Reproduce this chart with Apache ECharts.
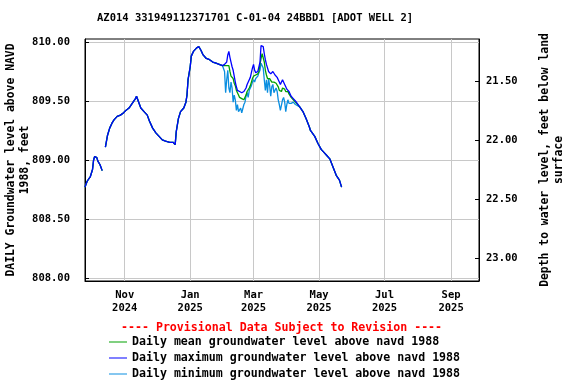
<!DOCTYPE html>
<html><head><meta charset="utf-8">
<script src="https://cdn.jsdelivr.net/npm/echarts@6/dist/echarts.min.js"></script>
<style>html,body{margin:0;padding:0;background:#fff}#c{width:576px;height:384px}</style>
</head><body><div id="c"></div>
<script>
// ---- data ----
const titleText = 'AZ014 331949112371701 C-01-04 24BBD1 [ADOT WELL 2]';
const provisionalText = '---- Provisional Data Subject to Revision ----';
const seriesNames = ['Daily mean groundwater level above navd 1988','Daily maximum groundwater level above navd 1988','Daily minimum groundwater level above navd 1988'];
const xTickDates = ['2024-11-01','2025-01-01','2025-03-01','2025-05-01','2025-07-01','2025-09-01'];
const monthNames = ['Jan','Feb','Mar','Apr','May','Jun','Jul','Aug','Sep','Oct','Nov','Dec'];
const leftTicks = [808.0, 808.5, 809.0, 809.5, 810.0];
const rightTicks = [21.5, 22.0, 22.5, 23.0];
const landSurface = 831.17;

// Sep 2024 - Jan 2025 (all three series coincide)
const datesA = ['2024-09-25','2024-09-27','2024-09-30','2024-10-02','2024-10-03','2024-10-04','2024-10-06','2024-10-07','2024-10-09','2024-10-11','2024-10-12',
 '2024-10-14','2024-10-15','2024-10-16','2024-10-18','2024-10-20','2024-10-22','2024-10-25','2024-10-28','2024-10-31','2024-11-02','2024-11-05','2024-11-08','2024-11-11','2024-11-12','2024-11-14','2024-11-16','2024-11-19','2024-11-22','2024-11-24','2024-11-27','2024-11-30',
 '2024-12-03','2024-12-06','2024-12-09','2024-12-13','2024-12-16','2024-12-18','2024-12-19','2024-12-21','2024-12-23','2024-12-26','2024-12-28','2024-12-29','2024-12-30',
 '2025-01-01','2025-01-02','2025-01-04','2025-01-07','2025-01-09','2025-01-11','2025-01-13','2025-01-16','2025-01-19','2025-01-22','2025-01-25','2025-01-28','2025-01-31'];
const levelA = [808.77,808.82,808.86,808.92,809.00,809.03,809.02,808.99,808.96,808.91,'-',
 809.11,809.16,809.21,809.27,809.31,809.34,809.37,809.38,809.40,809.42,809.44,809.48,809.52,809.54,809.49,809.44,809.41,809.38,809.33,809.27,809.23,
 809.20,809.17,809.16,809.15,809.15,809.13,809.24,809.35,809.41,809.44,809.49,809.55,809.68,
 809.79,809.88,809.92,809.95,809.96,809.93,809.89,809.86,809.85,809.83,809.82,809.81,809.80];

// Feb - Apr 10 2025 (daily, series differ)
const datesB = ['2025-02-01','2025-02-02','2025-02-03','2025-02-04','2025-02-05','2025-02-06','2025-02-07','2025-02-08','2025-02-09','2025-02-10',
 '2025-02-11','2025-02-12','2025-02-13','2025-02-14','2025-02-15','2025-02-16','2025-02-17','2025-02-18','2025-02-19','2025-02-20',
 '2025-02-21','2025-02-22','2025-02-23','2025-02-24','2025-02-25','2025-02-26','2025-02-27','2025-02-28',
 '2025-03-01','2025-03-02','2025-03-03','2025-03-04','2025-03-05','2025-03-06','2025-03-07','2025-03-08','2025-03-09','2025-03-10',
 '2025-03-11','2025-03-12','2025-03-13','2025-03-14','2025-03-15','2025-03-16','2025-03-17','2025-03-18','2025-03-19','2025-03-20',
 '2025-03-21','2025-03-22','2025-03-23','2025-03-24','2025-03-25','2025-03-26','2025-03-27','2025-03-28','2025-03-29','2025-03-30','2025-03-31',
 '2025-04-01','2025-04-02','2025-04-03','2025-04-04','2025-04-05','2025-04-06','2025-04-07','2025-04-08','2025-04-09','2025-04-10'];
const maxB = [809.79,809.81,809.82,809.83,809.89,809.92,809.87,809.83,809.79,809.76,
 809.71,809.66,809.62,809.59,809.58,809.58,809.57,809.57,809.57,809.58,
 809.59,809.61,809.64,809.65,809.68,809.70,809.74,809.78,
 809.81,809.76,809.74,809.75,809.75,809.76,809.83,809.97,809.98,809.96,
 809.90,809.85,809.81,809.78,809.75,809.75,809.73,809.73,809.75,809.74,
 809.72,809.72,809.70,809.68,809.66,809.64,809.66,809.68,809.68,809.64,809.62,
 809.60,809.59,809.58,809.57,809.54,809.53,809.52,809.51,809.50,809.49];
const meanB = [809.79,809.80,809.80,809.80,809.79,809.80,809.75,809.71,809.70,809.69,
 809.65,809.63,809.59,809.57,809.55,809.53,809.53,809.52,809.52,809.51,
 809.52,809.55,809.58,809.59,809.61,809.63,809.66,809.69,
 809.71,809.72,809.72,809.72,809.73,809.75,809.81,809.86,809.90,809.89,
 809.83,809.76,809.72,809.69,809.69,809.69,809.68,809.66,809.67,809.66,
 809.65,809.65,809.64,809.62,809.59,809.58,809.58,809.61,809.61,809.60,809.58,
 809.57,809.58,809.56,809.55,809.53,809.52,809.51,809.50,809.49,809.48];
const minB = [809.79,809.75,809.57,809.68,809.76,809.61,809.57,809.66,809.61,809.49,
 809.55,809.51,809.42,809.47,809.41,809.40,809.44,809.40,809.41,809.47,
 809.49,809.54,809.57,809.53,809.59,809.61,809.63,809.66,
 809.68,809.66,809.69,809.68,809.71,809.74,809.76,809.82,809.83,809.78,
 809.68,809.59,809.68,809.57,809.69,809.63,809.54,809.62,809.64,809.57,
 809.59,809.61,809.58,809.51,809.47,809.42,809.42,809.51,809.53,809.49,809.41,
 809.47,809.51,809.48,809.47,809.48,809.49,809.49,809.48,809.47,809.47];

// Apr - May 2025 (all three coincide)
const datesC = ['2025-04-13','2025-04-16','2025-04-19','2025-04-22','2025-04-23','2025-04-27','2025-04-30','2025-05-03','2025-05-06','2025-05-08','2025-05-11','2025-05-14','2025-05-17','2025-05-20','2025-05-22'];
const levelC = [809.45,809.41,809.35,809.28,809.25,809.20,809.14,809.09,809.06,809.04,809.01,808.94,808.87,808.83,808.77];

// ---- build ----
function ts(s){ const p = s.split('-'); return Date.UTC(+p[0], +p[1]-1, +p[2]); }
function zip(d, v){ return d.map((x,i)=>[ts(x), v[i]]); }
const meanData = zip(datesA, levelA).concat(zip(datesB, meanB), zip(datesC, levelC));
const maxData  = zip(datesA, levelA).concat(zip(datesB, maxB),  zip(datesC, levelC));
const minData  = zip(datesA, levelA).concat(zip(datesB, minB),  zip(datesC, levelC));

const FONT = 'DejaVu Sans Mono';
const leftMin = 807.975, leftMax = 810.025;
const xTicks = xTickDates.map(ts);
const chart = echarts.init(document.getElementById('c'), null, {renderer:'canvas'});
chart.setOption({
  animation: false,
  backgroundColor: '#fff',
  title: [
    {text: titleText, left: 97, top: 13, padding: 0, textStyle:{fontFamily:FONT, fontSize:10.5, fontWeight:'bold', color:'#000'}},
    {text: provisionalText, left: 121, top: 322, padding: 0, textStyle:{fontFamily:FONT, fontSize:11.6, fontWeight:'bold', color:'#ff0000'}}
  ],
  legend: {
    orient: 'vertical', left: 109, top: 334, height: 50, padding: 0, itemWidth: 18, itemHeight: 1, itemGap: 0, icon: 'rect',
    data: seriesNames,
    textStyle: {fontFamily:FONT, fontSize:11.6, fontWeight:'bold', color:'#000', lineHeight:16}
  },
  grid: {left: 85, right: 97, top: 39, bottom: 103, outerBoundsMode: 'none', containLabel: false, show: true, borderColor: '#000', borderWidth: 1, backgroundColor:'#fff'},
  xAxis: {
    type: 'value', min: ts('2024-09-25'), max: ts('2025-09-27'),
    axisLine: {show: true, lineStyle:{color:'#000'}},
    axisTick: {show: false, customValues: xTicks},
    axisLabel: {customValues: xTicks, fontFamily:FONT, fontSize:10.5, fontWeight:'bold', color:'#000', lineHeight:13, margin:8,
      formatter: function(v){ const d = new Date(v); return monthNames[d.getUTCMonth()] + '\n' + d.getUTCFullYear(); }},
    splitLine: {show: true, lineStyle:{color:'#c8c8c8', width:1}}
  },
  yAxis: [
    {type:'value', min:leftMin, max:leftMax, position:'left',
     name:'DAILY Groundwater level above NAVD\n1988, feet', nameLocation:'middle', nameGap:53, nameMoveOverlap:false,
     nameTextStyle:{fontFamily:FONT, fontSize:11.4, fontWeight:'bold', color:'#000', lineHeight:14},
     axisLine:{show:true, lineStyle:{color:'#000'}},
     axisTick:{show:true, inside:true, length:4, customValues: leftTicks, lineStyle:{color:'#000'}},
     axisLabel:{customValues: leftTicks, margin:15, fontFamily:FONT, fontSize:10.5, fontWeight:'bold', color:'#000', formatter:(v)=>v.toFixed(2)},
     splitLine:{show:true, lineStyle:{color:'#c8c8c8', width:1}}
    },
    {type:'value', inverse:true, min: +(landSurface-leftMax).toFixed(3), max: +(landSurface-leftMin).toFixed(3), position:'right',
     name:'Depth to water level, feet below land\nsurface', nameLocation:'middle', nameGap:59, nameRotate:90, nameMoveOverlap:false,
     nameTextStyle:{fontFamily:FONT, fontSize:11.4, fontWeight:'bold', color:'#000', lineHeight:14},
     axisLine:{show:true, lineStyle:{color:'#000'}},
     axisTick:{show:true, inside:true, length:4, customValues: rightTicks, lineStyle:{color:'#000'}},
     axisLabel:{customValues: rightTicks, margin:7, fontFamily:FONT, fontSize:10.5, fontWeight:'bold', color:'#000', formatter:(v)=>v.toFixed(2)},
     splitLine:{show:false}
    }
  ],
  series: [
    {name: seriesNames[2], type:'line', data: minData, showSymbol:false, color:'#0a8ee0', lineStyle:{width:1.3, color:'#0a8ee0'}, z:2},
    {name: seriesNames[0], type:'line', data: meanData, showSymbol:false, color:'#00a000', lineStyle:{width:1.3, color:'#00a000'}, z:3},
    {name: seriesNames[1], type:'line', data: maxData, showSymbol:false, color:'#0000ff', lineStyle:{width:1.3, color:'#0000ff'}, z:4}
  ]
});
</script></body></html>
